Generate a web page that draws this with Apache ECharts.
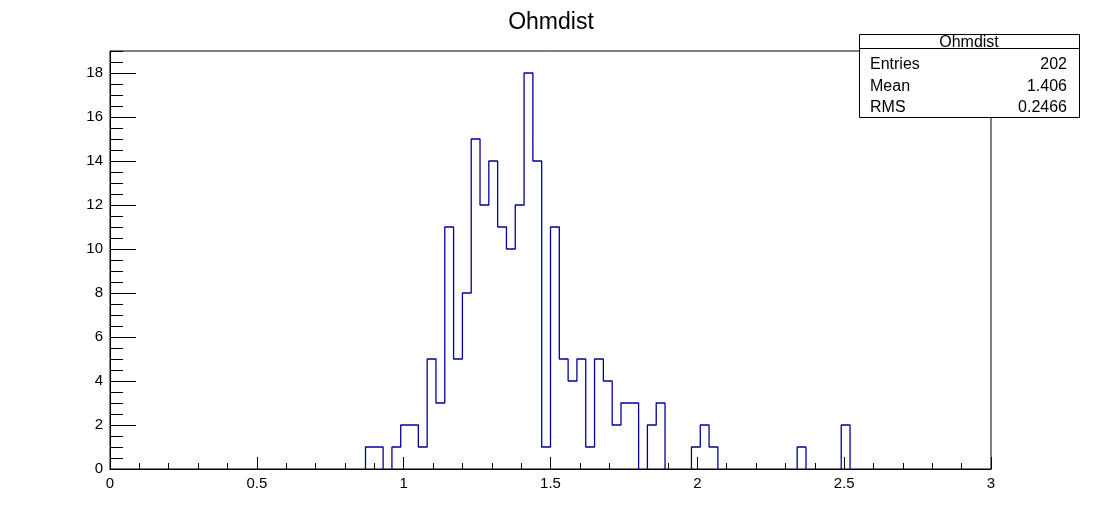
<!DOCTYPE html>
<html>
<head>
<meta charset="utf-8">
<script src="https://cdn.jsdelivr.net/npm/echarts@6/dist/echarts.min.js"></script>
<style>
html,body{margin:0;padding:0;background:#fff;}
#chart{width:1102px;height:522px;}
</style>
</head>
<body>
<div id="chart"></div>
<script>
// Histogram: 100 bins from 0 to 3 (width 0.03)
const binLow = 0;
const binHigh = 3;
const nBins = 100;
// Non-zero bin contents: [bin index, count]
const binIndex = [29, 30, 32, 33, 34, 35, 36, 37, 38, 39, 40, 41, 42, 43, 44, 45, 46, 47, 48, 49, 50, 51, 52, 53, 54, 55, 56, 57, 58, 59, 61, 62, 66, 67, 68, 78, 83];
const binCount = [1, 1, 1, 2, 2, 1, 5, 3, 11, 5, 8, 15, 12, 14, 11, 10, 12, 18, 14, 1, 11, 5, 4, 5, 1, 5, 4, 2, 3, 3, 2, 3, 1, 2, 1, 1, 2];
const xTickLabels = ['0', '0.5', '1', '1.5', '2', '2.5', '3'];
const yTickLabels = ['0', '2', '4', '6', '8', '10', '12', '14', '16', '18'];
const titleText = 'Ohmdist';
const statsNames = ['Entries', 'Mean', 'RMS'];
const statsValues = ['202', '1.406', '0.2466'];

const counts = new Array(nBins).fill(0);
binIndex.forEach((b, i) => { counts[b] = binCount[i]; });
const w = (binHigh - binLow) / nBins;
// Outline of the histogram; empty bins break the line so the black axis shows
const lineData = [];
for (let i = 0; i < nBins; i++) {
  const lo = +(binLow + i * w).toFixed(4), hi = +(binLow + (i + 1) * w).toFixed(4);
  if (counts[i] > 0) {
    lineData.push([lo, counts[i]], [hi, counts[i]]);
  } else {
    lineData.push([lo, 0], null, [hi, 0]);
  }
}

const FONT = 'Liberation Sans, Arial, Helvetica, sans-serif';
const chart = echarts.init(document.getElementById('chart'), null, {renderer: 'canvas'});

const boxX = 859, boxY = 34, boxW = 220, boxH = 83;
const rowY = [65, 87, 108];
const graphics = [
  {type: 'rect', shape: {x: boxX + 0.5, y: boxY + 0.5, width: boxW, height: boxH},
   style: {fill: '#fff', stroke: '#000', lineWidth: 1}, z: 100},
  {type: 'line', shape: {x1: boxX, y1: 48.5, x2: boxX + boxW, y2: 48.5},
   style: {stroke: '#000', lineWidth: 1}, z: 101},
  {type: 'text', x: boxX + boxW / 2, y: 51, z: 102,
   style: {text: titleText, fill: '#000', font: '16px ' + FONT, textAlign: 'center', textVerticalAlign: 'bottom'}}
];
statsNames.forEach((n, i) => {
  graphics.push({type: 'text', x: 870, y: rowY[i], z: 102,
    style: {text: n, fill: '#000', font: '16px ' + FONT, textAlign: 'left', textVerticalAlign: 'middle'}});
  graphics.push({type: 'text', x: 1067, y: rowY[i], z: 102,
    style: {text: statsValues[i], fill: '#000', font: '16px ' + FONT, textAlign: 'right', textVerticalAlign: 'middle'}});
});

const axisText = {color: '#000', fontSize: 15, fontFamily: FONT};
chart.setOption({
  animation: false,
  backgroundColor: '#fff',
  title: {
    text: titleText, left: 'center', top: 6,
    textStyle: {color: '#000', fontSize: 23, fontWeight: 'normal', fontFamily: FONT}
  },
  grid: {left: 110, right: 111, top: 51, bottom: 53, show: true, borderColor: '#000', borderWidth: 1, backgroundColor: 'transparent'},
  xAxis: [{
    type: 'value', min: 0, max: 3, interval: 0.5, position: 'bottom',
    axisLine: {show: true, onZero: false, lineStyle: {color: '#000', width: 1}},
    axisTick: {show: true, inside: true, length: 12, lineStyle: {color: '#000'}},
    minorTick: {show: true, splitNumber: 5, length: 6, lineStyle: {color: '#000'}},
    splitLine: {show: false},
    axisLabel: Object.assign({margin: 7, formatter: v => xTickLabels[Math.round(v / 0.5)] ?? ''}, axisText)
  }],
  yAxis: [{
    type: 'value', min: 0, max: 19, interval: 2, position: 'left',
    axisLine: {show: true, onZero: false, lineStyle: {color: '#000', width: 1}},
    axisTick: {show: true, inside: true, length: 26, lineStyle: {color: '#000'}},
    splitLine: {show: false},
    axisLabel: Object.assign({margin: 7, showMaxLabel: false, formatter: v => yTickLabels[Math.round(v / 2)] ?? ''}, axisText)
  }, {
    type: 'value', min: 0, max: 19, interval: 0.5, position: 'left', offset: 0,
    axisLine: {show: false},
    axisTick: {show: true, inside: true, length: 13, lineStyle: {color: '#000'}},
    splitLine: {show: false},
    axisLabel: {show: false}
  }],
  series: [{
    type: 'line', data: lineData, xAxisIndex: 0, yAxisIndex: 0, connectNulls: false,
    showSymbol: false, symbol: 'none', z: 2,
    lineStyle: {color: '#000099', width: 1.3}
  }],
  graphic: graphics
});
</script>
</body>
</html>
